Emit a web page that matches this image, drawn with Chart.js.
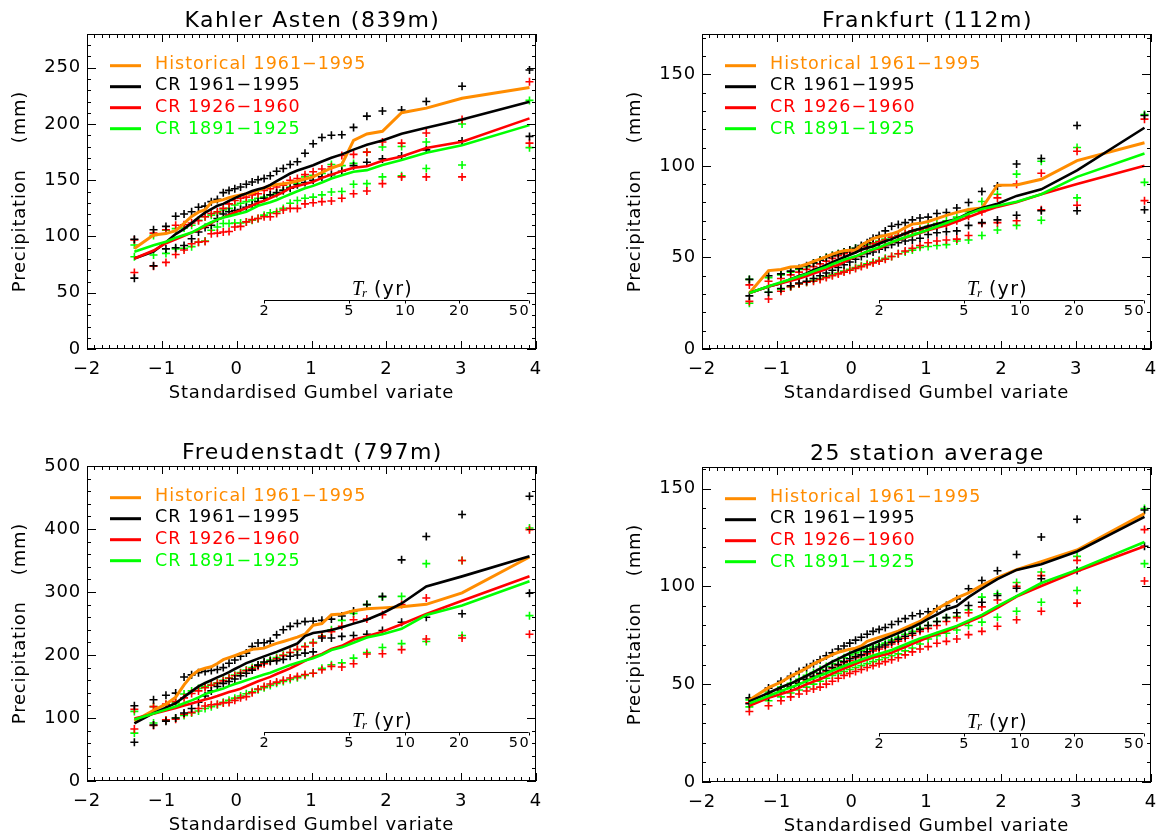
<!DOCTYPE html>
<html>
<head>
<meta charset="utf-8">
<script src="https://cdn.jsdelivr.net/npm/chart.js@4.4.0/dist/chart.umd.min.js"></script>
<style>
  html, body { margin: 0; padding: 0; background: #fff; overflow: hidden; }
  body { width: 1159px; height: 836px; position: relative; }
  canvas { position: absolute; }
</style>
</head>
<body>
<canvas id="c1" width="580" height="418" style="left:0px;top:0px"></canvas>
<canvas id="c2" width="580" height="418" style="left:615px;top:0px"></canvas>
<canvas id="c3" width="580" height="418" style="left:0px;top:432px"></canvas>
<canvas id="c4" width="580" height="418" style="left:615px;top:433px"></canvas>
<script>
// plotting positions of the 35 ranked annual maxima (standardised Gumbel variate)
const gumbelX = [-1.367, -1.111, -0.945, -0.815, -0.703, -0.602, -0.510, -0.422, -0.339, -0.258,
  -0.179, -0.102, -0.025, 0.052, 0.129, 0.207, 0.286, 0.367, 0.449, 0.534,
  0.623, 0.715, 0.811, 0.913, 1.022, 1.139, 1.266, 1.405, 1.562, 1.740,
  1.948, 2.204, 2.534, 3.012, 3.913];
const returnPeriods = [2, 5, 10, 20, 50];
const seriesLabels = ['Historical 1961\u22121995', 'CR 1961\u22121995', 'CR 1926\u22121960', 'CR 1891\u22121925'];
const stationTitles = ['Kahler Asten (839m)', 'Frankfurt (112m)', 'Freudenstadt (797m)', '25 station average'];
const yMaxima = [280, 172, 500, 161];
const yTickSteps = [50, 50, 100, 50];
const yMinorSteps = [10, 10, 20, 10];

// Kahler Asten
const kahlerHist = [89.4, 101.3, 102.6, 105.2, 111.7, 117.9, 121.6, 123.8, 130.4, 131.6, 132.8, 134.6, 135.9, 136.9, 137.7, 138.6, 140.9, 143.1, 145.1, 146.3, 146.8, 147.8, 149.3, 151.1, 153, 156.9, 160.9, 164, 185.5, 191.2, 193.5, 210, 214.1, 222.9, 232.4];
const kahlerCr61 = [80.5, 86.6, 94.8, 102.2, 106.8, 111.9, 116.9, 121.2, 124.4, 127.3, 129, 131.6, 134.1, 136.4, 138.3, 140.4, 141.9, 143.4, 145.9, 149.2, 152.6, 156, 158.7, 160.9, 163.4, 166.6, 170, 173, 177.2, 181.5, 185.4, 191.4, 196.6, 203.9, 219.7];
const kahlerCr26 = [80.5, 87.5, 94, 97.5, 100.6, 103.4, 106, 109, 112, 115, 117, 119.2, 121.3, 123.3, 125.4, 127.7, 129.9, 131.8, 134.1, 136.5, 139.5, 143.2, 144.9, 146.7, 148.6, 152.1, 155, 158.1, 161.1, 162.5, 167.4, 171.1, 178.6, 184.3, 205];
const kahlerCr91 = [86.4, 92.2, 95.4, 98.9, 101.3, 103.5, 106.7, 110.1, 112.7, 115, 116.8, 118.1, 119.4, 120.7, 122, 124.5, 127.3, 128.9, 130.4, 132.5, 135, 137.6, 140.2, 142.8, 145, 148, 151.5, 154.5, 157.5, 159, 163.6, 168, 174.5, 181.2, 199];
const kahlerCr61Hi = [97.5, 106, 109, 118, 120, 122, 126, 127, 131, 133, 139, 141, 142.5, 144, 146.5, 148.5, 150.5, 151.5, 154, 158, 160.5, 164, 166.5, 174, 182.5, 188, 190, 190.5, 197, 207, 211.5, 212.5, 220, 233.5, 248];
const kahlerCr61Lo = [63, 74, 89, 90, 92, 98, 104, 108, 110, 116, 120, 122, 123, 124, 126, 128, 131, 134, 137, 139, 141, 143, 146, 148, 150, 153, 155, 158, 163, 166, 169, 171.5, 177, 185, 189];
const kahlerCr26Hi = [97, 103, 106, 110, 110.5, 112, 114, 117.5, 120.5, 122, 125, 129, 132, 134, 135, 137, 138, 141, 142.5, 144, 145.5, 150, 151.5, 155, 157.5, 160, 162, 172, 173, 175, 184, 183, 192, 204, 237.5];
const kahlerCr26Lo = [68, 73.5, 77, 84, 88, 93.5, 95, 95.5, 102.5, 103, 104, 104.5, 108.5, 109, 113, 115, 116, 117.5, 117.5, 120.5, 123.5, 125, 125, 129, 130, 131, 131.5, 134, 138, 140.5, 147, 153, 153, 153, 183];
const kahlerCr91Hi = [92.5, 101, 105.5, 107, 107.5, 110, 114.5, 117.5, 119, 121, 123.5, 125, 128, 129.5, 131, 132.5, 134, 135, 137, 138, 141, 144, 147, 153, 154.5, 156, 164, 163, 165, 175, 179.5, 180, 184, 200, 221];
const kahlerCr91Lo = [82, 83.5, 85, 89, 89.5, 91, 95, 96, 105.5, 108.5, 111.5, 111.5, 112, 112, 113, 114.5, 116, 119, 121, 122, 125, 129.5, 132, 134, 135, 137, 139.5, 140, 146.5, 147, 153, 154, 160.5, 163.5, 179];

// Frankfurt
const frankHist = [30.6, 42.8, 43.4, 44.8, 45.1, 46.3, 47.8, 49.1, 50.5, 51.8, 52.9, 53.6, 53.9, 54.1, 56.6, 58.6, 60.3, 61.3, 62, 62.9, 64.1, 66.3, 68.2, 68.6, 69.6, 71.2, 73, 74.6, 76.2, 77, 89.4, 89.6, 92.7, 102.9, 112.6];
const frankCr61 = [30.6, 34.1, 35.9, 38.1, 39.9, 41.3, 43.1, 44.4, 45.9, 47.4, 48.8, 50.1, 51.4, 52.7, 54.2, 55.2, 56.1, 57.5, 58.8, 60, 61.5, 63.1, 64.6, 65.6, 67, 68.2, 69.6, 71, 74.1, 77, 79.3, 83.6, 87.2, 97.5, 120.8];
const frankCr26 = [30.6, 34.1, 35.9, 37.3, 38.5, 39.9, 41.2, 42.4, 43.6, 45, 45.9, 47.4, 49.1, 50.3, 51.6, 53.2, 54, 54.9, 56.5, 58.2, 59.5, 60.8, 62, 63.3, 64.8, 66.2, 67.6, 69.6, 72, 74.8, 77.6, 80.1, 84.5, 90.1, 100];
const frankCr91 = [30.6, 34.3, 36.4, 38.1, 39.6, 41, 42.4, 43.7, 44.8, 46.3, 47.5, 48.7, 49.7, 50.6, 51.9, 53.3, 54.5, 55.5, 56.9, 58.3, 59.6, 61, 62.3, 63.6, 65.1, 66.9, 68.8, 71, 73.8, 76.4, 78.2, 80.4, 84.5, 94, 106.8];
const frankCr61Hi = [38, 40, 41, 42.5, 44, 45.5, 47, 48.5, 50, 51, 52, 53, 54, 55, 56.5, 58, 60.5, 62, 64.5, 67, 68, 69, 70.5, 71.5, 72, 74, 74.5, 77, 80, 86, 89, 101, 104, 122, 127.5];
const frankCr61Lo = [29, 31, 33, 34.5, 36, 37, 38.5, 40, 41.5, 43, 44.5, 46, 47.5, 49, 50.5, 52, 53, 54.5, 55.5, 57, 58, 59, 59.5, 60.5, 62.5, 63.5, 64, 64.5, 67.5, 69, 70.5, 73, 75.5, 75.5, 76];
const frankCr26Hi = [35, 37, 38.5, 40.5, 42, 43.5, 45, 46.5, 48, 49.5, 51, 52, 53, 54, 55, 56, 57.5, 58.5, 59.5, 61, 62, 63, 64.5, 65, 66, 67, 68, 70, 72.5, 75, 82.5, 90, 96, 108, 125.5];
const frankCr26Lo = [26, 27.3, 31.5, 34, 35.5, 36.5, 37, 38, 39, 40, 41, 42, 43, 44, 45, 46, 47, 48, 49, 50.5, 52, 53.5, 55, 56.5, 58, 59, 59.5, 60, 62, 68.5, 69, 70, 76, 78.5, 81];
const frankCr91Hi = [38, 39, 40.5, 42, 43.5, 45, 47, 48.5, 50, 51, 52, 53, 54, 55, 56, 57, 58, 59, 60, 61, 62, 63, 64, 65.5, 67, 68.5, 70, 72, 75, 80.5, 84.5, 95.5, 102.5, 110, 128];
const frankCr91Lo = [25, 31, 32.5, 34, 35.5, 36.5, 37.5, 38.5, 39.5, 40.5, 41.5, 42.5, 43.5, 44.5, 45.5, 46.5, 47.5, 48.5, 49.5, 50.5, 52, 53, 54, 55.5, 56, 56.5, 57, 59, 59.5, 62, 65, 67.5, 70.3, 82.5, 91];

// Freudenstadt
const freudHist = [95, 112, 122, 133, 152.5, 167.5, 175.8, 179, 181.3, 186.6, 192.6, 195.8, 199, 202.4, 205.6, 209, 210.1, 210.9, 215, 218.4, 221.5, 224.7, 228.4, 233, 247.3, 250, 264, 265, 270.1, 273.4, 274.8, 276.6, 280.4, 298.6, 355.6];
const freudCr61 = [91.6, 107.6, 116.5, 123.5, 133.5, 142.3, 150.2, 155.6, 160, 164.5, 168.5, 172.8, 177.8, 182.3, 187.1, 190.6, 194.2, 197.8, 201.4, 205, 209.2, 213.6, 218.2, 230, 234.8, 237, 239.6, 244.2, 249.8, 256, 266.3, 281.8, 308.8, 324.8, 356.6];
const freudCr26 = [99.2, 106.7, 111.9, 115.7, 119.7, 123.2, 126.2, 129.2, 131.7, 134.8, 138.2, 141.2, 143.8, 146.5, 150.3, 154.4, 158.3, 161.7, 165.3, 169.8, 174.2, 178.7, 184.5, 190.8, 197, 201.7, 209.6, 214.5, 224.2, 229.8, 237.1, 248.8, 265.2, 286.2, 325];
const freudCr91 = [97.7, 107.3, 113.3, 118.2, 123.4, 128, 132.6, 137.9, 141.3, 144.1, 146.8, 150.6, 154, 156.9, 159.8, 162.9, 166, 168.9, 171.8, 175.8, 180, 184, 187.7, 191.2, 195, 200.3, 207.8, 212.1, 219.5, 227.8, 233.1, 241.6, 263.5, 278.7, 317];
const freudCr61Hi = [119.5, 129, 136, 139.5, 165, 168.5, 172, 174, 175.5, 177, 180, 187, 192, 198, 203, 213.5, 219, 219.5, 222, 232, 240, 245.5, 250, 253, 253.5, 255, 257, 262, 270, 280, 293, 351, 388, 423, 452];
const freudCr61Lo = [61.5, 89, 95, 100, 108, 115, 125, 135, 143, 150, 155, 158, 162, 167, 171, 176, 184, 189, 190, 191, 193, 198, 200, 203, 205, 227, 227, 229.5, 231, 233, 239, 252, 260, 265.5, 298];
const freudCr26Hi = [114, 118, 122, 126, 132, 139, 143, 148, 152, 155, 159, 163, 167, 171, 175, 178, 182, 186, 190, 194, 199, 204, 209, 213, 219, 229.5, 237, 245.5, 256, 257, 264, 280, 290.5, 350, 399];
const freudCr26Lo = [82.5, 88, 97, 98, 106, 109, 115, 119, 121, 122, 124, 124.5, 128, 132, 134, 140, 146, 150, 154, 157, 160, 163.5, 166, 169, 171, 176.5, 182, 181, 186, 201.5, 202, 208.5, 225.5, 227, 233];
const freudCr91Hi = [110.5, 118, 121, 124, 138, 143, 147, 150, 153, 156, 160, 164, 168, 172, 176, 180, 184, 188, 192, 196, 200, 204, 208, 214, 220, 230, 240, 255, 266, 280, 292, 293, 345, 350, 401.5];
const freudCr91Lo = [76, 92, 96, 100, 104, 108, 111, 115, 118, 121, 125, 128, 131.5, 135, 138.5, 141.5, 145, 148, 151.5, 155, 158, 161, 164, 167.5, 171, 179, 184.5, 187.5, 195, 204, 212, 218, 221.5, 231, 262.5];

// 25 station average
const avgHist = [41.9, 48.2, 51, 54.1, 56.2, 58.2, 60.4, 62, 63.5, 65.1, 66.3, 67.1, 67.9, 68.4, 69.6, 71.9, 72.9, 73.9, 74.9, 75.9, 77.1, 78.8, 80.4, 82.1, 85, 88.4, 91.2, 94.1, 96.7, 100.5, 104.5, 108.5, 112.6, 118.6, 137.2];
const avgCr61 = [41.2, 45.5, 48.4, 50.3, 52.4, 54.3, 56.2, 58, 59.7, 61.5, 62.9, 64.4, 65.9, 67.1, 68.2, 69.5, 70.8, 72.1, 73.4, 74.7, 76.1, 77.6, 79.1, 81, 83.4, 85.6, 88.2, 89.9, 94.5, 98.9, 103.7, 108.4, 111.3, 117.8, 135.5];
const avgCr26 = [39, 43, 45, 46.5, 48.2, 50, 51.3, 52.5, 54, 55.4, 56.8, 58, 59.2, 60.4, 61.6, 62.6, 63.6, 64.4, 65.2, 66.1, 67.6, 69, 70.6, 72.2, 74, 75.5, 77, 79.3, 81.7, 84.7, 89, 94.8, 100.2, 107.7, 120.5];
const avgCr91 = [40.2, 44, 46.5, 48.3, 50, 51.6, 53, 54.4, 55.6, 57, 58.1, 59.3, 60.4, 61.5, 62.6, 63.6, 64.6, 65.6, 66.4, 67.5, 68.9, 70.3, 71.8, 73.4, 74.8, 76.3, 78, 79.8, 82.5, 85.4, 89.9, 95, 101.7, 108.4, 122.7];
const avgCr61Hi = [43, 48, 51.5, 54, 56.5, 58.5, 60.5, 62.5, 64.5, 66, 68, 69.5, 71, 72.5, 74, 75.5, 77, 78, 79, 80.5, 82, 83.5, 85, 86, 87, 88.5, 90.2, 93.6, 98.8, 103, 108, 116.3, 125.2, 134.3, 139];
const avgCr61Lo = [40, 43.5, 46.5, 48.5, 50.5, 52.5, 54, 55.5, 57, 58.5, 60, 61.5, 63, 64, 65, 66.5, 68, 69, 70, 71.5, 73, 74.5, 76, 78, 80, 82, 84, 86.5, 90.2, 91.9, 95.3, 99, 103.9, 108.1, 120.5];
const avgCr26Hi = [40.5, 45, 47, 48.5, 50.5, 52, 53.5, 55, 56.5, 58, 59.5, 61, 62, 63.5, 64.5, 65.5, 67, 68, 69, 70.5, 72, 73.5, 75, 77, 78.5, 80, 82, 84, 86.5, 89.5, 93, 100, 105.5, 113.3, 129];
const avgCr26Lo = [36, 39, 41.5, 43.5, 45, 46.5, 47.5, 48.5, 50, 51.5, 53, 54.5, 55.5, 56.5, 57.5, 58.5, 59.5, 60.5, 61.5, 62.5, 63.5, 65, 66.5, 68, 69.2, 70.9, 71.9, 73.1, 75.3, 77, 79.6, 82.9, 87.3, 91.4, 102.7];
const avgCr91Hi = [42, 46, 48.5, 50.5, 52.5, 54.5, 56, 57.5, 59, 60.5, 62, 63.5, 65, 66, 67, 68, 69, 70, 71, 72.5, 74, 75.5, 77, 78.5, 80, 82, 84, 84.6, 88, 94.5, 96.2, 102, 107.3, 115.3, 139.8];
const avgCr91Lo = [38.4, 41.5, 43.5, 45.5, 47, 48.5, 50, 51.5, 53, 54.5, 55.5, 56.5, 57.5, 58.5, 59.5, 60.5, 61.5, 62.5, 63.5, 64.5, 65.5, 67, 68.5, 70.5, 73.1, 74.8, 76, 77.7, 80, 81.7, 84.2, 87.3, 91.9, 97.9, 111.6];

const FONT = '"DejaVu Sans", "Liberation Sans", sans-serif';
const colours = ['#ff8c00', '#000000', '#ff0000', '#00ff00'];

Chart.defaults.font.family = FONT;
Chart.defaults.color = '#000';

function gumbelOf(T) {
    return -Math.log(-Math.log(1 - 1 / T));
}

function toPoints(values) {
    return gumbelX.map((x, i) => ({ x: x, y: values[i] }));
}

// IDL style box, inward ticks, return period axis, legend and title
const idlFrame = {
    id: 'idlFrame',
    beforeDraw(chart) {
        // the old vector font is wide: spread the axis text a little
        chart.ctx.letterSpacing = '0.8px';
    },
    afterDatasetsDraw(chart, args, opts) {
        const ctx = chart.ctx;
        const a = chart.chartArea;
        const xs = chart.scales.x;
        const ys = chart.scales.y;
        ctx.save();
        ctx.strokeStyle = '#000';
        ctx.fillStyle = '#000';
        ctx.lineWidth = 1;
        ctx.strokeRect(Math.round(a.left) + 0.5, Math.round(a.top) + 0.5, Math.round(a.width) - 1, Math.round(a.height) - 1);

        ctx.beginPath();
        for (let i = 0; i <= 60; i++) {
            const px = Math.round(xs.getPixelForValue(xs.min + i / 10)) + 0.5;
            const len = i % 10 === 0 ? 8 : 4;
            ctx.moveTo(px, a.bottom); ctx.lineTo(px, a.bottom - len);
            ctx.moveTo(px, a.top); ctx.lineTo(px, a.top + len);
        }
        const nMinor = Math.floor(ys.max / opts.minor + 1e-6);
        for (let i = 0; i <= nMinor; i++) {
            const v = i * opts.minor;
            const py = Math.round(ys.getPixelForValue(v)) + 0.5;
            const len = v % opts.major === 0 ? 9 : 4;
            ctx.moveTo(a.left, py); ctx.lineTo(a.left + len, py);
            ctx.moveTo(a.right, py); ctx.lineTo(a.right - len, py);
        }
        ctx.stroke();

        // return period axis
        const trY = Math.round(a.bottom - 0.156 * a.height) + 0.5;
        const tx = returnPeriods.map(T => xs.getPixelForValue(gumbelOf(T)));
        ctx.beginPath();
        ctx.moveTo(tx[0], trY);
        ctx.lineTo(tx[tx.length - 1], trY);
        tx.forEach(px => {
            ctx.moveTo(Math.round(px) + 0.5, trY);
            ctx.lineTo(Math.round(px) + 0.5, trY + 3);
        });
        ctx.stroke();
        ctx.font = '14.5px ' + FONT;
        ctx.letterSpacing = '1.5px';
        ctx.textBaseline = 'middle';
        returnPeriods.forEach((T, i) => {
            const last = i === returnPeriods.length - 1;
            ctx.textAlign = last ? 'right' : 'center';
            ctx.fillText(String(T), last ? tx[i] + 1.5 : tx[i] + 0.75, trY + 11);
        });

        const lx = xs.getPixelForValue(gumbelOf(5)) + 3;
        ctx.textAlign = 'left';
        ctx.textBaseline = 'alphabetic';
        ctx.letterSpacing = '0px';
        ctx.font = 'italic 20px "Liberation Serif", serif';
        ctx.fillText('T', lx, trY - 6);
        const tw = ctx.measureText('T').width;
        ctx.font = 'italic 13px "Liberation Serif", serif';
        ctx.fillText('r', lx + tw - 1, trY - 4);
        ctx.font = '19px ' + FONT;
        ctx.letterSpacing = '1.3px';
        ctx.fillText('(yr)', lx + 22, trY - 6);

        // legend
        ctx.font = '17.5px ' + FONT;
        ctx.letterSpacing = '1px';
        for (let i = 0; i < 4; i++) {
            const ds = chart.data.datasets[i];
            const y = a.top + 31.7 + i * 21;
            ctx.strokeStyle = ds.borderColor;
            ctx.lineWidth = 3;
            ctx.beginPath();
            ctx.moveTo(a.left + 23, y);
            ctx.lineTo(a.left + 54, y);
            ctx.stroke();
            ctx.fillStyle = ds.borderColor;
            ctx.fillText(ds.label, a.left + 68, a.top + 34.5 + i * 21.7);
        }

        // title
        ctx.fillStyle = '#000';
        ctx.font = '22px ' + FONT;
        ctx.letterSpacing = '1.5px';
        ctx.textAlign = 'center';
        ctx.fillText(opts.title, (a.left + a.right) / 2 + 1, a.top - 7.3);
        ctx.restore();
    }
};

function makePanel(canvasId, k, s) {
    const lines = [s.hist, s.cr61, s.cr26, s.cr91].map((vals, i) => ({
        label: seriesLabels[i],
        data: toPoints(vals),
        showLine: true,
        borderColor: colours[i],
        backgroundColor: colours[i],
        borderWidth: i === 0 ? 3 : 2.6,
        pointRadius: 0,
        order: 4 - i
    }));
    const marks = [[s.cr61Hi, 1], [s.cr61Lo, 1], [s.cr26Hi, 2], [s.cr26Lo, 2], [s.cr91Hi, 3], [s.cr91Lo, 3]].map(([vals, c]) => ({
        label: seriesLabels[c] + ' range',
        data: toPoints(vals),
        showLine: false,
        pointStyle: 'cross',
        pointRadius: 4,
        pointBorderWidth: 1.6,
        borderColor: colours[c],
        backgroundColor: colours[c],
        order: 10
    }));
    const step = yTickSteps[k];
    return new Chart(document.getElementById(canvasId), {
        type: 'scatter',
        data: { datasets: lines.concat(marks) },
        options: {
            responsive: false,
            animation: false,
            events: [],
            layout: { padding: { left: 0, top: 34, right: 44, bottom: 0 } },
            plugins: {
                legend: { display: false },
                tooltip: { enabled: false },
                idlFrame: { title: stationTitles[k], major: step, minor: yMinorSteps[k] }
            },
            scales: {
                x: {
                    type: 'linear',
                    min: -2,
                    max: 4,
                    grid: { display: false, drawTicks: false },
                    border: { display: false },
                    ticks: {
                        stepSize: 1,
                        padding: 10,
                        autoSkip: false,
                        maxRotation: 0,
                        color: '#000',
                        font: { size: 18 },
                        callback: v => Number.isInteger(v) ? String(v).replace('-', '\u2212') : ''
                    },
                    title: {
                        display: true,
                        text: 'Standardised Gumbel variate',
                        color: '#000',
                        font: { size: 18 },
                        padding: { top: 0, bottom: 14 }
                    },
                    afterFit(scale) { scale.height = 69; }
                },
                y: {
                    type: 'linear',
                    min: 0,
                    max: yMaxima[k],
                    grid: { display: false, drawTicks: false },
                    border: { display: false },
                    ticks: {
                        stepSize: step,
                        includeBounds: false,
                        padding: 6,
                        color: '#000',
                        font: { size: 18 },
                        callback: v => v % step === 0 ? String(v) : ''
                    },
                    title: {
                        display: true,
                        text: 'Precipitation    (mm)',
                        color: '#000',
                        font: { size: 18 },
                        padding: { top: 10, bottom: 0 }
                    },
                    afterFit(scale) { scale.width = 87; }
                }
            }
        },
        plugins: [idlFrame]
    });
}

makePanel('c1', 0, {
    hist: kahlerHist, cr61: kahlerCr61, cr26: kahlerCr26, cr91: kahlerCr91,
    cr61Hi: kahlerCr61Hi, cr61Lo: kahlerCr61Lo, cr26Hi: kahlerCr26Hi, cr26Lo: kahlerCr26Lo,
    cr91Hi: kahlerCr91Hi, cr91Lo: kahlerCr91Lo
});
makePanel('c2', 1, {
    hist: frankHist, cr61: frankCr61, cr26: frankCr26, cr91: frankCr91,
    cr61Hi: frankCr61Hi, cr61Lo: frankCr61Lo, cr26Hi: frankCr26Hi, cr26Lo: frankCr26Lo,
    cr91Hi: frankCr91Hi, cr91Lo: frankCr91Lo
});
makePanel('c3', 2, {
    hist: freudHist, cr61: freudCr61, cr26: freudCr26, cr91: freudCr91,
    cr61Hi: freudCr61Hi, cr61Lo: freudCr61Lo, cr26Hi: freudCr26Hi, cr26Lo: freudCr26Lo,
    cr91Hi: freudCr91Hi, cr91Lo: freudCr91Lo
});
makePanel('c4', 3, {
    hist: avgHist, cr61: avgCr61, cr26: avgCr26, cr91: avgCr91,
    cr61Hi: avgCr61Hi, cr61Lo: avgCr61Lo, cr26Hi: avgCr26Hi, cr26Lo: avgCr26Lo,
    cr91Hi: avgCr91Hi, cr91Lo: avgCr91Lo
});
</script>
</body>
</html>
